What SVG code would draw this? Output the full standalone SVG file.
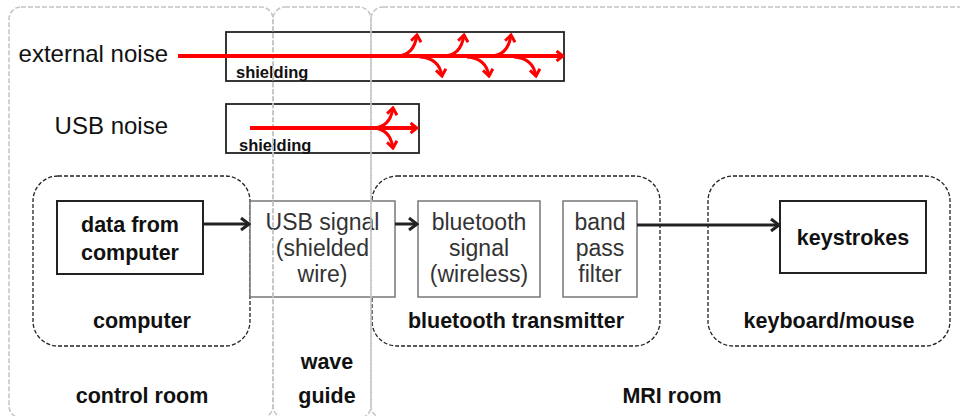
<svg xmlns="http://www.w3.org/2000/svg" width="960" height="416" viewBox="0 0 960 416">
<defs>
<style>
text{font-family:"Liberation Sans",Arial,sans-serif;text-anchor:middle}
.big{font-size:24px;fill:#111}
.lbl{font-size:21.5px;font-weight:bold;fill:#111}
.grey{font-size:23px;fill:#333}
.sh{font-size:16.5px;font-weight:bold;fill:#111;text-anchor:start}
.room{fill:none;stroke:#c4c4c4;stroke-width:1.5;stroke-dasharray:5 2}
.grp{fill:none;stroke:#222;stroke-width:1.3;stroke-dasharray:4 2}
.box{fill:#fff;stroke:#222;stroke-width:2}
.gbox{fill:#fff;stroke:#777;stroke-width:1.5}
.shield{fill:#fff;stroke:#222;stroke-width:1.8}
.conn{fill:none;stroke:#222;stroke-width:3;marker-end:url(#ah)}
.red{fill:none;stroke:#f00;stroke-width:4;marker-end:url(#rh)}
.redb{fill:none;stroke:#f00;stroke-width:3;marker-end:url(#rh)}
</style>
<marker id="ah" markerUnits="userSpaceOnUse" viewBox="0 0 12 14" markerWidth="12" markerHeight="14" refX="10" refY="7" orient="auto">
<path d="M2,1 L10,7 L2,13" fill="none" stroke="#222" stroke-width="3"/>
</marker>
<marker id="rh" markerUnits="userSpaceOnUse" viewBox="0 0 10 12" markerWidth="10" markerHeight="12" refX="8" refY="6" orient="auto">
<path d="M1.5,1 L8,6 L1.5,11" fill="none" stroke="#f00" stroke-width="3"/>
</marker>
</defs>
<rect width="960" height="416" fill="#fff"/>

<!-- groups (dashed) -->
<g id="computer">
<rect class="grp" x="33" y="176" width="217" height="170" rx="25"/>
<text class="lbl" x="142" y="328">computer</text>
</g>
<g id="bluetooth-transmitter">
<rect class="grp" x="372" y="176" width="288" height="170" rx="25"/>
<text class="lbl" x="516" y="328">bluetooth transmitter</text>
</g>
<g id="keyboard-mouse">
<rect class="grp" x="708" y="176" width="242" height="170" rx="25"/>
<text class="lbl" x="829" y="328">keyboard/mouse</text>
</g>

<!-- nodes -->
<g id="data-from-computer">
<rect class="box" x="57" y="201" width="146" height="73"/>
<text class="lbl" x="130" y="232">data from</text>
<text class="lbl" x="130" y="260">computer</text>
</g>
<g id="usb-signal">
<rect class="gbox" x="250" y="201" width="145" height="96"/>
<text class="grey" x="322.5" y="230">USB signal</text>
<text class="grey" x="322.5" y="256">(shielded</text>
<text class="grey" x="322.5" y="282">wire)</text>
</g>
<g id="bluetooth-signal">
<rect class="gbox" x="418" y="201" width="122" height="96"/>
<text class="grey" x="479" y="230">bluetooth</text>
<text class="grey" x="479" y="256">signal</text>
<text class="grey" x="479" y="282">(wireless)</text>
</g>
<g id="band-pass-filter">
<rect class="gbox" x="563" y="201" width="74" height="96"/>
<text class="grey" x="600" y="230">band</text>
<text class="grey" x="600" y="256">pass</text>
<text class="grey" x="600" y="282">filter</text>
</g>
<g id="keystrokes">
<rect class="box" x="780" y="201" width="146" height="72"/>
<text class="lbl" x="853" y="245">keystrokes</text>
</g>

<g id="external-shielding">
<rect class="shield" x="226" y="32" width="338" height="49"/>
<text class="sh" x="236" y="78">shielding</text>
</g>
<g id="usb-shielding">
<rect class="shield" x="226" y="104" width="193" height="49"/>
<text class="sh" x="239" y="151">shielding</text>
</g>

<!-- rooms -->
<g id="control-room">
<rect class="room" x="9" y="7" width="264" height="411" rx="12"/>
<text class="lbl" x="142" y="403">control room</text>
</g>
<g id="wave-guide">
<rect class="room" x="273" y="7" width="98" height="411" rx="12"/>
<text class="lbl" x="327" y="369">wave</text>
<text class="lbl" x="327" y="403">guide</text>
</g>
<g id="mri-room">
<rect class="room" x="371" y="7" width="620" height="411" rx="12"/>
<text class="lbl" x="672" y="403">MRI room</text>
</g>

<!-- noise labels -->
<g id="external-noise">
<text class="big" x="168" y="62" style="text-anchor:end">external noise</text>
</g>
<g id="usb-noise">
<text class="big" x="168" y="134" style="text-anchor:end">USB noise</text>
</g>

<!-- connectors -->
<g id="connectors">
<path class="conn" d="M203,224 H249"/>
<path class="conn" d="M395,224 H417"/>
<path class="conn" d="M637,225 H779"/>

<path class="red" d="M178,56 H563"/>
<path class="redb" d="M396,56 Q414,56 417,35"/>
<path class="redb" d="M443,56 Q461,56 464,35"/>
<path class="redb" d="M490,56 Q508,56 511,35"/>
<path class="redb" d="M420,57 Q439,58 442,76"/>
<path class="redb" d="M467,57 Q486,58 489,76"/>
<path class="redb" d="M514,57 Q533,58 536,76"/>

<path class="red" d="M250,128 H417"/>
<path class="redb" d="M372,128 Q390,128 393,108"/>
<path class="redb" d="M372,128 Q390,128 393,148"/>
</g>
</svg>
